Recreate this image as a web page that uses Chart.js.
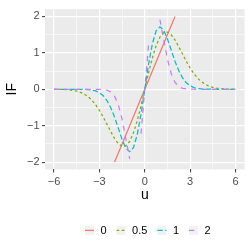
<!DOCTYPE html>
<html>
<head>
<meta charset="utf-8">
<script src="https://cdn.jsdelivr.net/npm/chart.js@4.4.0/dist/chart.umd.min.js"></script>
<style>
  html, body { margin: 0; padding: 0; background: #fff; }
  canvas { display: block; }
</style>
</head>
<body>
<canvas id="chart" width="251" height="251"></canvas>
<script>
// u grid, step 0.25
const uValues = [-6, -5.75, -5.5, -5.25, -5, -4.75, -4.5, -4.25, -4, -3.75, -3.5, -3.25,
    -3, -2.75, -2.5, -2.25, -2, -1.75, -1.5, -1.25, -1, -0.75, -0.5, -0.25,
    0, 0.25, 0.5, 0.75, 1, 1.25, 1.5, 1.75, 2, 2.25, 2.5, 2.75,
    3, 3.25, 3.5, 3.75, 4, 4.25, 4.5, 4.75, 5, 5.25, 5.5, 5.75, 6];

const seriesLabels = ['0', '0.5', '1', '2'];

// values outside [-2, 2] are dropped (null)
const if0 = [null, null, null, null, null, null, null, null, null, null, null, null,
    null, null, null, null, -2, -1.75, -1.5, -1.25, -1, -0.75, -0.5, -0.25,
    0, 0.25, 0.5, 0.75, 1, 1.25, 1.5, 1.75, 2, null, null, null,
    null, null, null, null, null, null, null, null, null, null, null, null, null];

const if05 = [-0.001, -0.003, -0.005, -0.010, -0.018, -0.031, -0.052, -0.085, -0.135, -0.205, -0.301, -0.426,
    -0.581, -0.763, -0.963, -1.166, -1.352, -1.495, -1.570, -1.554, -1.431, -1.197, -0.863, -0.452,
    0, 0.452, 0.863, 1.197, 1.431, 1.554, 1.570, 1.495, 1.352, 1.166, 0.963, 0.763,
    0.581, 0.426, 0.301, 0.205, 0.135, 0.085, 0.052, 0.031, 0.018, 0.010, 0.005, 0.003, 0.001];

const if1 = [0, 0, 0, 0, 0, 0, 0, -0.001, -0.004, -0.009, -0.022, -0.047,
    -0.094, -0.177, -0.311, -0.506, -0.765, -1.070, -1.377, -1.618, -1.715, -1.601, -1.248, -0.685,
    0, 0.685, 1.248, 1.601, 1.715, 1.618, 1.377, 1.070, 0.765, 0.506, 0.311, 0.177,
    0.094, 0.047, 0.022, 0.009, 0.004, 0.001, 0, 0, 0, 0, 0, 0, 0];

const if2 = [0, 0, 0, 0, 0, 0, 0, 0, 0, 0, 0, 0,
    -0.002, -0.007, -0.025, -0.074, -0.190, -0.425, -0.821, -1.361, -1.912, null, null, -1.218,
    0, 1.218, null, null, 1.912, 1.361, 0.821, 0.425, 0.190, 0.074, 0.025, 0.007,
    0.002, 0, 0, 0, 0, 0, 0, 0, 0, 0, 0, 0, 0];

const xTicks = [-6, -4.5, -3, -1.5, 0, 1.5, 3, 4.5, 6];
const xMajor = [-6, -3, 0, 3, 6];
const yTicks = [-2, -1.5, -1, -0.5, 0, 0.5, 1, 1.5, 2];
const yMajor = [-2, -1, 0, 1, 2];

const colours = ['#F8766D', '#7CAE00', '#00BFC4', '#C77CFF'];
const dashes = [[], [2.6, 2.6], [5.2, 2.6], [5.2, 5.2]];

const toPoints = (ys) => uValues.map((u, i) => ({ x: u, y: ys[i] }));
const fmt = (v) => v < 0 ? '\u2212' + Math.abs(v) : String(v);

const panelBackground = {
    id: 'panelBackground',
    beforeDraw(chart) {
        const { ctx, chartArea: a } = chart;
        ctx.save();
        ctx.fillStyle = '#EBEBEB';
        ctx.fillRect(a.left, a.top, a.right - a.left, a.bottom - a.top);
        ctx.restore();
    }
};

const bottomLegend = {
    id: 'bottomLegend',
    afterDraw(chart) {
        const ctx = chart.ctx;
        const key = 9;
        const yMid = 230.4;
        let x = 85;
        ctx.save();
        ctx.font = '11px "Liberation Sans", Arial, sans-serif';
        ctx.textBaseline = 'middle';
        chart.data.datasets.forEach(ds => {
            ctx.fillStyle = '#F2F2F2';
            ctx.fillRect(x, yMid - key / 2, key, key);
            ctx.strokeStyle = ds.borderColor;
            ctx.lineWidth = ds.borderWidth;
            ctx.setLineDash(ds.borderDash);
            ctx.beginPath();
            ctx.moveTo(x, yMid);
            ctx.lineTo(x + key, yMid);
            ctx.stroke();
            ctx.setLineDash([]);
            ctx.fillStyle = '#000';
            ctx.fillText(ds.label, x + key + 6.5, yMid + 0.5);
            x += key + 6.5 + ctx.measureText(ds.label).width + 10;
        });
        ctx.restore();
    }
};

const gridFor = (major) => ({
    color: '#FFFFFF',
    lineWidth: (c) => (c.tick && major.includes(c.tick.value)) ? 1.2 : 0.6,
    tickColor: (c) => (c.tick && major.includes(c.tick.value)) ? '#333333' : 'rgba(0,0,0,0)',
    tickLength: 3,
    tickWidth: 1
});

Chart.defaults.font.family = '"Liberation Sans", Arial, sans-serif';

const allSeries = [if0, if05, if1, if2];

new Chart(document.getElementById('chart'), {
    type: 'line',
    data: {
        datasets: allSeries.map((ys, i) => ({
            label: seriesLabels[i],
            data: toPoints(ys),
            borderColor: colours[i],
            borderWidth: 1.25,
            borderDash: dashes[i],
            pointRadius: 0,
            tension: 0,
            spanGaps: false,
            fill: false,
            order: allSeries.length - i
        }))
    },
    options: {
        responsive: false,
        animation: false,
        devicePixelRatio: 1,
        layout: { padding: { left: 0, top: 6.6, right: 6.4, bottom: 46.6 } },
        plugins: {
            legend: { display: false },
            tooltip: { enabled: false }
        },
        scales: {
            x: {
                type: 'linear',
                min: -6.6,
                max: 6.6,
                afterBuildTicks: (scale) => { scale.ticks = xTicks.map(v => ({ value: v })); },
                afterFit: (scale) => { scale.height = 35; },
                grid: gridFor(xMajor),
                border: { display: false },
                ticks: {
                    autoSkip: false,
                    maxRotation: 0,
                    padding: 2.5,
                    color: '#4D4D4D',
                    font: { size: 11 },
                    callback: (v) => xMajor.includes(v) ? fmt(v) : ''
                },
                title: {
                    display: true,
                    text: 'u',
                    color: '#000',
                    font: { size: 14 },
                    padding: { top: 0, bottom: 0.5 }
                }
            },
            y: {
                type: 'linear',
                min: -2.2,
                max: 2.2,
                afterBuildTicks: (scale) => { scale.ticks = yTicks.map(v => ({ value: v })); },
                afterFit: (scale) => { scale.width = 45; },
                grid: gridFor(yMajor),
                border: { display: false },
                ticks: {
                    autoSkip: false,
                    padding: 2.5,
                    color: '#4D4D4D',
                    font: { size: 11 },
                    callback: (v) => yMajor.includes(v) ? fmt(v) : ''
                },
                title: {
                    display: true,
                    text: 'IF',
                    color: '#000',
                    font: { size: 14 },
                    padding: { top: 4, bottom: 0 }
                }
            }
        }
    },
    plugins: [panelBackground, bottomLegend]
});
</script>
</body>
</html>
